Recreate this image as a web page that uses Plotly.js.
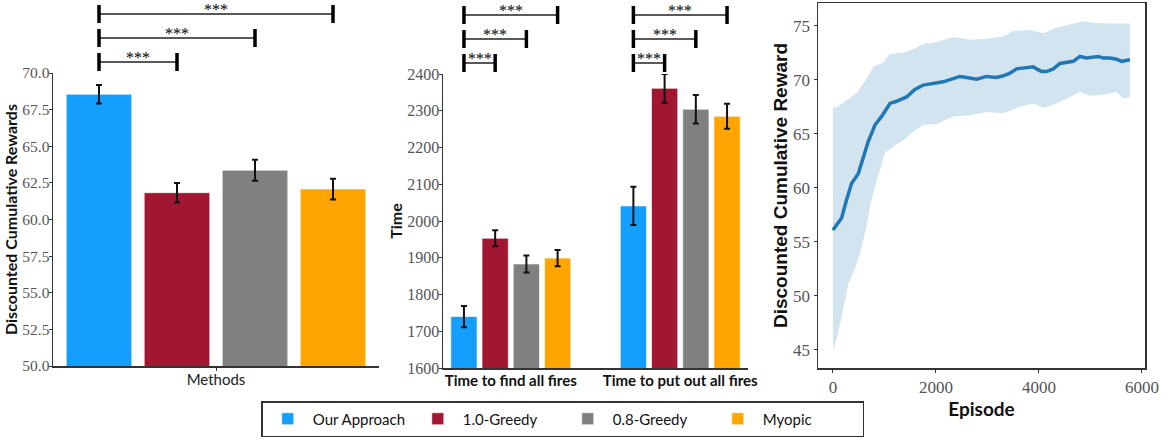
<!DOCTYPE html>
<html><head><meta charset="utf-8">
<script src="https://cdn.plot.ly/plotly-3.0.1.min.js"></script>
<style>html,body{margin:0;padding:0;background:#fff}#chart{width:1170px;height:440px}</style>
</head><body><div id="chart"></div>
<script>
// ---------- data ----------
const methods = ['Our Approach', '1.0-Greedy', '0.8-Greedy', 'Myopic'];
const colors = ['#149efd', '#a11631', '#808080', '#ffa500'];

const rewardCategory = ['Methods'];
const rewardMean = [68.55, 61.83, 63.36, 62.08];
const rewardErr = [0.63, 0.67, 0.72, 0.71];

const timeCategories = ['Time to find all fires', 'Time to put out all fires'];
const findMean = [1740, 1953, 1883, 1899];
const findErr = [29, 22, 23, 22];
const putOutMean = [2041, 2361, 2304, 2285];
const putOutErr = [52, 39, 39, 34];

const rewardTicks = [50, 52.5, 55, 57.5, 60, 62.5, 65, 67.5, 70];
const episodeTicks = [0, 2000, 4000, 6000];

const meanEpisode = [0, 169, 266, 363, 492, 590, 687, 816, 945, 1107, 1236, 1430, 1592, 1754, 2013, 2142, 2336, 2466, 2595, 2790, 2984, 3178, 3307, 3437, 3566, 3696, 3890, 3955, 4052, 4149, 4278, 4408, 4537, 4667, 4796, 4926, 5152, 5249, 5378, 5508, 5605, 5767];
const meanReward = [56.08, 57.2, 58.9, 60.4, 61.3, 62.9, 64.3, 65.8, 66.6, 67.8, 68.0, 68.4, 69.1, 69.5, 69.7, 69.8, 70.1, 70.3, 70.2, 70.05, 70.3, 70.2, 70.36, 70.6, 71.0, 71.1, 71.2, 71.0, 70.75, 70.75, 71.0, 71.5, 71.6, 71.7, 72.15, 72.0, 72.15, 72.0, 72.0, 71.9, 71.7, 71.85];

const upperEpisode = [0, 65, 266, 460, 655, 784, 978, 1107, 1366, 1560, 1754, 2013, 2336, 2660, 2984, 3307, 3501, 3825, 4084, 4343, 4602, 4861, 5120, 5378, 5767];
const upperReward = [67.46, 67.4, 68.1, 68.75, 70.1, 71.2, 71.6, 72.4, 72.5, 72.8, 73.3, 73.5, 73.95, 73.7, 73.8, 74.0, 74.5, 74.6, 74.3, 74.8, 75.1, 75.4, 75.25, 75.2, 75.2];

const lowerEpisode = [0, 65, 169, 298, 427, 524, 655, 719, 816, 913, 1010, 1172, 1366, 1560, 1754, 2013, 2336, 2660, 2984, 3307, 3631, 3890, 4084, 4343, 4602, 4796, 4991, 5249, 5508, 5637, 5767];
const lowerReward = [45.0, 45.9, 48.0, 51.1, 52.5, 53.9, 56.4, 58.2, 60.1, 61.6, 63.2, 63.8, 64.4, 65.2, 65.8, 65.9, 66.6, 66.7, 67.0, 66.9, 67.5, 67.8, 67.4, 67.8, 68.4, 68.85, 68.5, 68.6, 68.85, 68.25, 68.4];

// ---------- helpers ----------
const W = 1170, H = 440;
const py = p => 1 - p / H;
const pxx = p => p / W;
const BARGAP = 0.263, GROUPGAP = 0.16;
const barCenter = (cat, i, n) => cat - (1 - BARGAP) / 2 + (1 - BARGAP) / n * (i + 0.5);

const serif = 'Liberation Serif, DejaVu Serif, serif';
const sans = 'Lato, Liberation Sans, sans-serif';

const traces = [];
methods.forEach((m, i) => {
  traces.push({
    type: 'bar', name: m, x: rewardCategory, y: [rewardMean[i]],
    xaxis: 'x', yaxis: 'y', legendgroup: m,
    marker: {color: colors[i], line: {color: 'rgba(255,255,255,0.6)', width: 1}},
    error_y: {type: 'data', array: [rewardErr[i]], color: '#111', thickness: 2, width: 3},
    hoverinfo: 'y'
  });
});
methods.forEach((m, i) => {
  traces.push({
    type: 'bar', name: m, x: timeCategories, y: [findMean[i], putOutMean[i]],
    xaxis: 'x2', yaxis: 'y2', legendgroup: m, showlegend: false,
    marker: {color: colors[i], line: {color: 'rgba(255,255,255,0.6)', width: 1}},
    error_y: {type: 'data', array: [findErr[i], putOutErr[i]], color: '#111', thickness: 2, width: 3},
    hoverinfo: 'y'
  });
});
traces.push({
  type: 'scatter', mode: 'lines', showlegend: false, hoverinfo: 'skip',
  x: upperEpisode.concat(lowerEpisode.slice().reverse()),
  y: upperReward.concat(lowerReward.slice().reverse()),
  fill: 'toself', fillcolor: 'rgba(31,119,180,0.2)', line: {width: 0, color: 'rgba(0,0,0,0)'},
  xaxis: 'x3', yaxis: 'y3'
});
traces.push({
  type: 'scatter', mode: 'lines', showlegend: false, x: meanEpisode, y: meanReward,
  line: {color: '#1f77b4', width: 3.5}, xaxis: 'x3', yaxis: 'y3'
});

// ---------- significance brackets ----------
const shapes = [], annotations = [];
function brackets(xref, cat, topPx) {
  [1, 2, 3].forEach((j, k) => {
    const lineY = topPx - 11 - 24 * k;
    const x0 = barCenter(cat, 0, 4), x1 = barCenter(cat, j, 4);
    shapes.push({type: 'line', xref, yref: 'paper', x0, x1, y0: py(lineY), y1: py(lineY), line: {color: '#222', width: 1.5}});
    [x0, x1].forEach(xx => shapes.push({type: 'line', xref, yref: 'paper', x0: xx, x1: xx, y0: py(lineY - 9), y1: py(lineY + 9), line: {color: '#000', width: 3.5}}));
    annotations.push({xref, yref: 'paper', x: (x0 + x1) / 2, y: py(lineY), yanchor: 'bottom', xanchor: 'center', showarrow: false, text: '***', yshift: -5, borderpad: 0, font: {family: serif, size: 16, color: '#000'}});
  });
}
brackets('x', 0, 73);
brackets('x2', 0, 74);
brackets('x2', 1, 74);

const axisLine = {showline: true, linecolor: '#333', linewidth: 1.5, showgrid: false, zeroline: false, ticks: 'outside', ticklen: 3, tickcolor: '#333'};

const layout = {
  width: W, height: H, margin: {l: 0, r: 0, t: 0, b: 0},
  paper_bgcolor: '#fff', plot_bgcolor: '#fff',
  barmode: 'group', bargap: BARGAP, bargroupgap: GROUPGAP,
  showlegend: true,
  legend: {orientation: 'h', x: 0.481, xanchor: 'center', y: py(401), yanchor: 'top',
    bordercolor: '#333', borderwidth: 1.5, font: {family: sans, size: 15, color: '#111'},
    itemwidth: 40, entrywidth: 95, entrywidthmode: 'pixels', traceorder: 'normal'},
  xaxis: Object.assign({}, axisLine, {domain: [pxx(53), pxx(379)], anchor: 'y', type: 'category', range: [-0.385, 0.385],
    ticklabelstandoff: -4, tickfont: {family: sans, size: 15, color: '#222'}}),
  yaxis: Object.assign({}, axisLine, {domain: [py(366), py(73)], anchor: 'x', range: [50, 70],
    tickvals: rewardTicks, ticktext: rewardTicks.map(v => v.toFixed(1)), ticklabelstandoff: -4,
    tickfont: {family: serif, size: 15.5, color: '#555'},
    title: {text: 'Discounted Cumulative Rewards', standoff: 0, font: {family: sans, size: 16, weight: 'bold', color: '#111'}}}),
  xaxis2: Object.assign({}, axisLine, {domain: [pxx(443), pxx(748)], anchor: 'y2', type: 'category', range: [-0.4, 1.4], ticks: '',
    ticklabelstandoff: -2, tickfont: {family: sans, size: 15, weight: 'bold', color: '#111'}}),
  yaxis2: Object.assign({}, axisLine, {domain: [py(368), py(74)], anchor: 'x2', range: [1600, 2400], dtick: 100,
    ticklabelstandoff: -4, tickfont: {family: serif, size: 16, color: '#555'},
    title: {text: 'Time', standoff: 0, font: {family: sans, size: 16, weight: 'bold', color: '#111'}}}),
  xaxis3: Object.assign({}, axisLine, {domain: [pxx(818), pxx(1145)], anchor: 'y3', range: [-290, 6060], mirror: true,
    tickvals: episodeTicks, tickfont: {family: serif, size: 17, color: '#555'},
    title: {text: 'Episode', standoff: 0, font: {family: sans, size: 19, weight: 'bold', color: '#111'}}}),
  yaxis3: Object.assign({}, axisLine, {domain: [py(368), py(3)], anchor: 'x3', range: [43.3, 77.1], mirror: true, dtick: 5,
    tickfont: {family: serif, size: 17, color: '#555'},
    title: {text: 'Discounted Cumulative Reward', standoff: 0, font: {family: 'Liberation Sans, Arial, sans-serif', size: 19, weight: 'bold', color: '#111'}}}),
  shapes, annotations
};

Plotly.newPlot('chart', traces, layout, {staticPlot: true, displayModeBar: false});
</script></body></html>
